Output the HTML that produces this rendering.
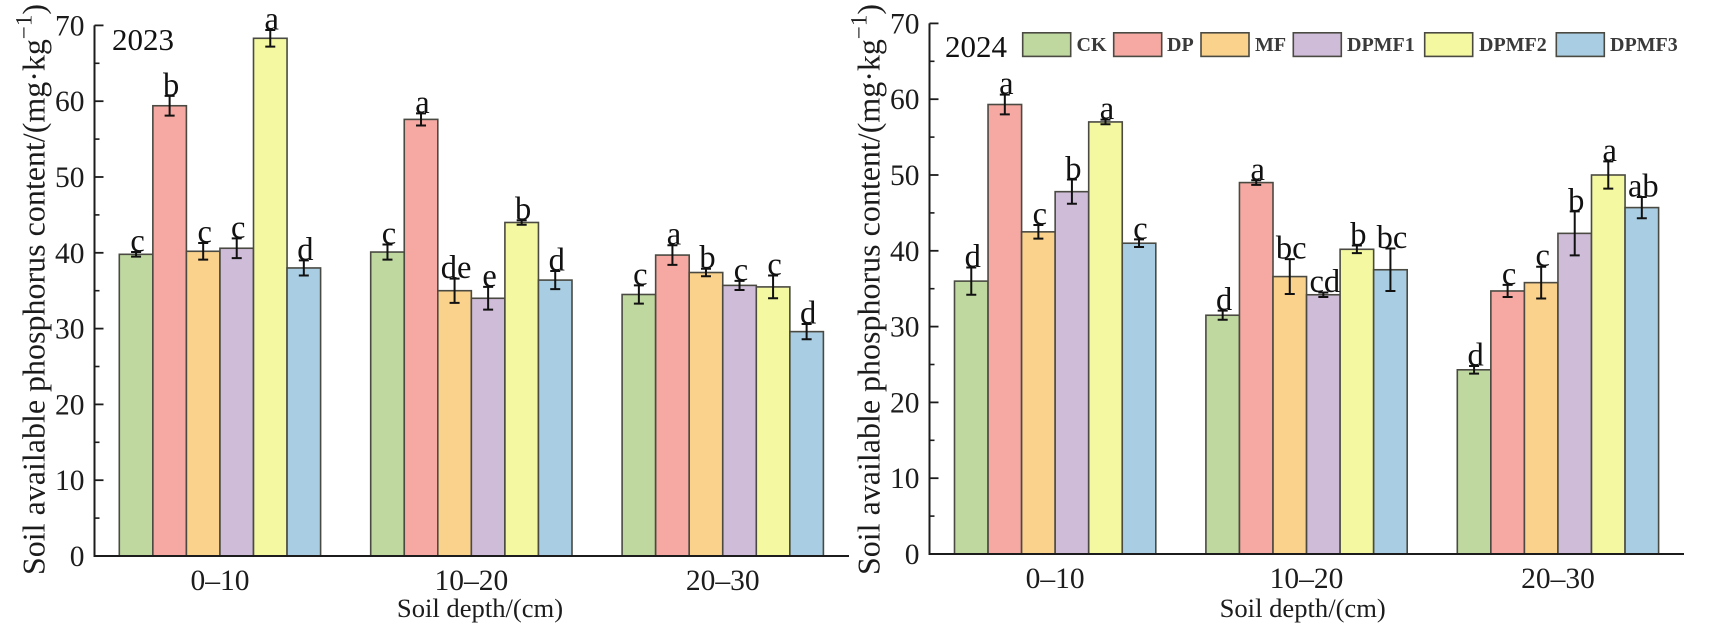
<!DOCTYPE html>
<html lang="en">
<head>
<meta charset="utf-8">
<title>Soil available phosphorus content</title>
<style>
html,body{margin:0;padding:0;background:#fff;width:1730px;height:632px;overflow:hidden}
svg{display:block;font-family:"Liberation Serif",serif}
</style>
</head>
<body>
<svg id="chart" xmlns="http://www.w3.org/2000/svg" width="1730" height="632" viewBox="0 0 1730 632"></svg>
<script>
const categories = ["0–10", "10–20", "20–30"];
const seriesNames = ["CK", "DP", "MF", "DPMF1", "DPMF2", "DPMF3"];
const yTicks = [0, 10, 20, 30, 40, 50, 60, 70];
const yMinorTicks = [5, 15, 25, 35, 45, 55, 65];
const seriesColors = ["#bfd89f", "#f6a9a3", "#fbd28b", "#cfbcd9", "#f3f8a1", "#a9cee3"];

const ck2023 = [39.8, 40.1, 34.5];
const dp2023 = [59.4, 57.6, 39.7];
const mf2023 = [40.2, 35.0, 37.4];
const dpmf1_2023 = [40.6, 34.0, 35.7];
const dpmf2_2023 = [68.3, 44.0, 35.5];
const dpmf3_2023 = [38.0, 36.4, 29.6];
const values2023 = [ck2023, dp2023, mf2023, dpmf1_2023, dpmf2_2023, dpmf3_2023];
const errors2023 = [[0.3, 1.0, 1.2], [1.3, 0.8, 1.3], [1.1, 1.6, 0.5], [1.3, 1.5, 0.6], [1.1, 0.3, 1.5], [1.0, 1.2, 1.0]];
const letters2023 = [["c", "c", "c"], ["b", "a", "a"], ["c", "de", "b"], ["c", "e", "c"], ["a", "b", "c"], ["d", "d", "d"]];

const ck2024 = [36.0, 31.5, 24.3];
const dp2024 = [59.3, 49.0, 34.7];
const mf2024 = [42.5, 36.6, 35.8];
const dpmf1_2024 = [47.8, 34.2, 42.3];
const dpmf2_2024 = [57.0, 40.2, 50.0];
const dpmf3_2024 = [41.0, 37.5, 45.7];
const values2024 = [ck2024, dp2024, mf2024, dpmf1_2024, dpmf2_2024, dpmf3_2024];
const errors2024 = [[1.8, 0.6, 0.5], [1.3, 0.3, 0.8], [0.9, 2.3, 2.1], [1.6, 0.3, 2.9], [0.3, 0.5, 1.8], [0.5, 2.8, 1.4]];
const letters2024 = [["d", "d", "d"], ["a", "a", "c"], ["c", "bc", "c"], ["b", "cd", "b"], ["a", "b", "a"], ["c", "bc", "ab"]];

const NS = "http://www.w3.org/2000/svg";
const root = document.getElementById("chart");
const INK = "#1c1c1c";
const BAR_STROKE = "#4a4a42";

function newEl(tag, parent) {
  const el = document.createElementNS(NS, tag);
  parent.appendChild(el);
  return el;
}
function setAll(el, props) {
  for (const k in props) el.setAttribute(k, props[k]);
}

function drawPanel(panelName, yearLabel, yearX, yearY, axisX, axisEnd, y0, firstBar, depthX, values, errors, letters) {
  const barW = 33.55;
  const pitch = 251.4;
  const pxPerUnit = 7.58;
  const yScale = v => y0 - v * pxPerUnit;
  const xScale = (g, s) => firstBar + g * pitch + s * barW;

  const panel = newEl("g", root);
  
  

  values.forEach((series, s) => {
    series.forEach((v, g) => {
      const bar = newEl("rect", panel);
      
      
      setAll(bar, {x: xScale(g, s), y: yScale(v), width: barW, height: y0 - yScale(v), fill: seriesColors[s], stroke: BAR_STROKE, "stroke-width": 1.6});
    });
  });

  values.forEach((series, s) => {
    series.forEach((v, g) => {
      const cx = xScale(g, s) + barW / 2;
      const top = yScale(v + errors[s][g]);
      const bot = yScale(v - errors[s][g]);
      const err = newEl("path", panel);
      
      
      setAll(err, {d: "M" + (cx - 5) + " " + top + "H" + (cx + 5) + "M" + cx + " " + top + "V" + bot + "M" + (cx - 5) + " " + bot + "H" + (cx + 5), fill: "none", stroke: "#111", "stroke-width": 2});

      const lab = newEl("text", panel);
      
      
      setAll(lab, {x: cx + 1.5, y: top - 0.5, "text-anchor": "middle", "font-size": 32.5, fill: "#111"});
      lab.textContent = letters[s][g];
    });
  });

  const yAxis = newEl("path", panel);
  
  
  setAll(yAxis, {d: "M" + axisX + " " + yScale(70) + "V" + y0, fill: "none", stroke: INK, "stroke-width": 2});

  const xAxis = newEl("path", panel);
  
  
  setAll(xAxis, {d: "M" + (axisX - 1) + " " + y0 + "H" + axisEnd, fill: "none", stroke: INK, "stroke-width": 2});

  yTicks.forEach(t => {
    const tick = newEl("line", panel);
    
    
    setAll(tick, {x1: axisX, x2: axisX + 9, y1: yScale(t), y2: yScale(t), stroke: INK, "stroke-width": 1.8});
    const label = newEl("text", panel);
    
    
    setAll(label, {x: axisX - 10, y: yScale(t) + 10, "text-anchor": "end", "font-size": 29.5, fill: INK});
    label.textContent = t;
  });
  yMinorTicks.forEach(t => {
    const tick = newEl("line", panel);
    
    
    setAll(tick, {x1: axisX, x2: axisX + 5, y1: yScale(t), y2: yScale(t), stroke: INK, "stroke-width": 1.6});
  });

  categories.forEach((c, g) => {
    const label = newEl("text", panel);
    
    
    setAll(label, {x: xScale(g, 3), y: y0 + 34, "text-anchor": "middle", "font-size": 29.5, fill: INK});
    label.textContent = c;
  });

  const depth = newEl("text", panel);
  
  
  setAll(depth, {x: depthX, y: 617, "text-anchor": "middle", "font-size": 26.6, fill: INK});
  depth.textContent = "Soil depth/(cm)";

  const yTitle = newEl("text", panel);
  
  
  setAll(yTitle, {transform: "translate(" + (axisX - 50) + " 575) rotate(-90)", x: 0, y: 0, "font-size": 32, fill: INK});
  yTitle.textContent = "Soil available phosphorus content/(mg·kg";
  const sup = newEl("tspan", yTitle);
  setAll(sup, {dy: -13, "font-size": 23});
  sup.textContent = "−1";
  const close = newEl("tspan", yTitle);
  setAll(close, {dy: 13});
  close.textContent = ")";

  const year = newEl("text", panel);
  
  
  setAll(year, {x: yearX, y: yearY, "font-size": 31, fill: "#111"});
  year.textContent = yearLabel;
}

drawPanel("panel-2023", "2023", 112, 50, 94.5, 849, 556, 119.3, 480, values2023, errors2023, letters2023);
drawPanel("panel-2024", "2024", 945, 57, 929.5, 1684, 554, 954.5, 1302.7, values2024, errors2024, letters2024);

const legendSwatchX = [1022.7, 1113.7, 1201, 1293.3, 1424.7, 1556.3];
const legendLabelX = [1076.5, 1167, 1255, 1347, 1479, 1610];
const legend = newEl("g", root);


seriesNames.forEach((n, i) => {
  const swatch = newEl("rect", legend);
  
  
  setAll(swatch, {x: legendSwatchX[i], y: 32.8, width: 48, height: 23.6, fill: seriesColors[i], stroke: BAR_STROKE, "stroke-width": 1.6});
  const label = newEl("text", legend);
  
  
  setAll(label, {x: legendLabelX[i], y: 51, "font-size": 20, "font-weight": "bold", fill: "#3a3a3a"});
  label.textContent = n;
});
</script>
</body>
</html>
